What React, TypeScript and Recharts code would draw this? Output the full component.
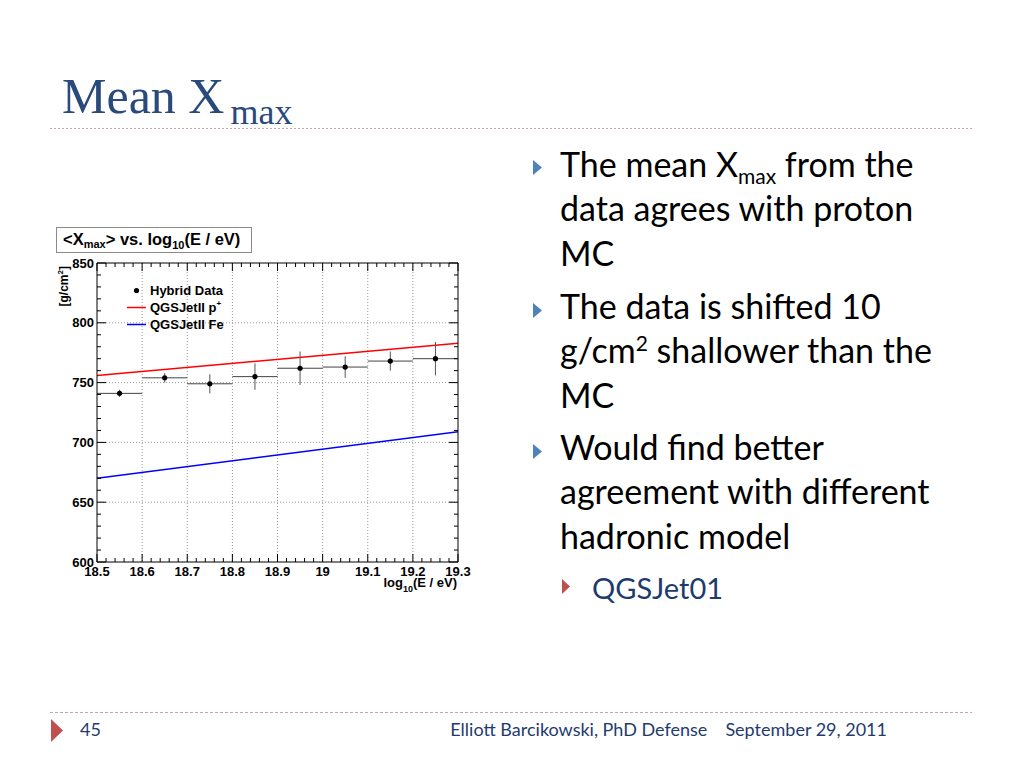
import React from "react";
import {
  ComposedChart,
  Scatter,
  Line,
  XAxis,
  YAxis,
  CartesianGrid,
  ErrorBar,
  Legend,
  Label,
} from "recharts";

// bins of log10(E/eV)
const binCenters = [18.55, 18.65, 18.75, 18.85, 18.95, 19.05, 19.15, 19.25];
const binHalfWidth = [0.05, 0.05, 0.05, 0.05, 0.05, 0.05, 0.05, 0.05];
// hybrid data <Xmax> [g/cm2] and its error
const meanXmax = [741, 754, 749, 755, 762, 763, 768, 770];
const xmaxErr = [3, 4, 8, 11, 14, 9, 8, 14];

// QGSJetII predictions (straight lines)
const modelEnergy = [18.5, 19.3];
const protonXmax = [756, 783];
const ironXmax = [670, 709];

const xMajorTicks = [18.5, 18.6, 18.7, 18.8, 18.9, 19, 19.1, 19.2, 19.3];
const yMajorTicks = [600, 650, 700, 750, 800, 850];

const subdivide = (majors: number[], n: number, digits: number) => {
  const out: number[] = [];
  for (let i = 0; i < majors.length - 1; i++) {
    const step = (majors[i + 1] - majors[i]) / n;
    for (let k = 0; k < n; k++) {
      out.push(Number((majors[i] + k * step).toFixed(digits)));
    }
  }
  out.push(majors[majors.length - 1]);
  return out;
};

const xTicks = subdivide(xMajorTicks, 5, 2);
const yTicks = subdivide(yMajorTicks, 5, 0);

const dataPoints = binCenters.map((x, i) => ({
  x,
  y: meanXmax[i],
  ex: binHalfWidth[i],
  ey: xmaxErr[i],
}));
const protonData = modelEnergy.map((x, i) => ({ x, y: protonXmax[i] }));
const ironData = modelEnergy.map((x, i) => ({ x, y: ironXmax[i] }));

const rootFont = "'Liberation Sans', Arial, Helvetica, sans-serif";
const isMajor = (list: number[], v: number) =>
  list.some((t) => Math.abs(t - v) < 1e-6);

const BottomTick = (props: any) => {
  const { x, y, payload } = props;
  const major = isMajor(xMajorTicks, payload.value);
  return (
    <g>
      <line x1={x} x2={x} y1={y} y2={y - (major ? 8 : 4)} stroke="#000" />
      {major && (
        <text
          x={x}
          y={y + 14}
          textAnchor="middle"
          fontFamily={rootFont}
          fontWeight="bold"
          fontSize={13}
          fill="#000"
        >
          {String(Math.round(payload.value * 10) / 10)}
        </text>
      )}
    </g>
  );
};

const TopTick = (props: any) => {
  const { x, y, payload } = props;
  const major = isMajor(xMajorTicks, payload.value);
  return <line x1={x} x2={x} y1={y} y2={y + (major ? 8 : 4)} stroke="#000" />;
};

const LeftTick = (props: any) => {
  const { x, y, payload } = props;
  const major = isMajor(yMajorTicks, payload.value);
  return (
    <g>
      <line x1={x} x2={x + (major ? 9 : 4)} y1={y} y2={y} stroke="#000" />
      {major && (
        <text
          x={x - 3}
          y={y}
          dy="0.36em"
          textAnchor="end"
          fontFamily={rootFont}
          fontWeight="bold"
          fontSize={13}
          fill="#000"
        >
          {payload.value}
        </text>
      )}
    </g>
  );
};

const RightTick = (props: any) => {
  const { x, y, payload } = props;
  const major = isMajor(yMajorTicks, payload.value);
  return <line x1={x} x2={x - (major ? 9 : 4)} y1={y} y2={y} stroke="#000" />;
};

const XTitle = (props: any) => {
  const { viewBox } = props;
  return (
    <text
      x={viewBox.x + viewBox.width - 1}
      y={viewBox.y + 25}
      textAnchor="end"
      fontFamily={rootFont}
      fontWeight="bold"
      fontSize={13}
      fill="#000"
    >
      log
      <tspan fontSize={9} dy={5}>10</tspan>
      <tspan dy={-5}>(E / eV)</tspan>
    </text>
  );
};

const YTitle = (props: any) => {
  const { viewBox } = props;
  const x = viewBox.x + 11;
  const y = viewBox.y + 3;
  return (
    <text
      x={x}
      y={y}
      transform={`rotate(-90 ${x} ${y})`}
      textAnchor="end"
      fontFamily={rootFont}
      fontWeight="bold"
      fontSize={12}
      fill="#000"
    >
      [g/cm
      <tspan fontSize={8} dy={-5}>2</tspan>
      <tspan dy={5}>]</tspan>
    </text>
  );
};

const legendRows = [
  { name: "Hybrid Data", kind: "dot", color: "#000" },
  { name: "QGSJetII p", sup: "+", kind: "line", color: "#ff0000" },
  { name: "QGSJetII Fe", kind: "line", color: "#0000ff" },
];

const LegendBox = () => (
  <div style={{ fontFamily: rootFont, fontWeight: "bold", fontSize: 13 }}>
    {legendRows.map((r) => (
      <div
        key={r.name}
        style={{ display: "flex", alignItems: "center", height: 17 }}
      >
        <svg width={23} height={17}>
          {r.kind === "dot" ? (
            <circle cx={9.5} cy={8.5} r={2.6} fill={r.color} />
          ) : (
            <line x1={0} x2={19} y1={8.5} y2={8.5} stroke={r.color} strokeWidth={1.5} />
          )}
        </svg>
        <span>
          {r.name}
          {r.sup && (
            <sup style={{ fontSize: 8, verticalAlign: 6, lineHeight: 0 }}>{r.sup}</sup>
          )}
        </span>
      </div>
    ))}
  </div>
);

const DataDot = (props: any) => {
  const { cx, cy } = props;
  return <circle cx={cx} cy={cy} r={2.6} fill="#000" />;
};

const Tri = ({ x, y, w, h, color }: any) => (
  <svg
    width={w}
    height={h}
    style={{ position: "absolute", left: x, top: y }}
  >
    <polygon points={`0,0 ${w},${h / 2} 0,${h}`} fill={color} />
  </svg>
);

const bodyFont = "Lato, 'Open Sans', sans-serif";
const lineH = 44.5;

const bodyStyle: React.CSSProperties = {
  position: "absolute",
  left: 560,
  fontFamily: bodyFont,
  fontSize: 34,
  lineHeight: `${lineH}px`,
  color: "#000",
  whiteSpace: "nowrap",
};

const smallSpan = (top: number): React.CSSProperties => ({
  fontSize: 21,
  lineHeight: "1px",
  position: "relative",
  top,
});

const footerStyle: React.CSSProperties = {
  position: "absolute",
  top: 717,
  fontFamily: bodyFont,
  fontSize: 18,
  lineHeight: "24px",
  color: "#1f3b6e",
  whiteSpace: "nowrap",
};

export default function App() {
  return (
    <div
      style={{
        position: "absolute",
        left: 0,
        top: 0,
        width: 1024,
        height: 768,
        background: "#fff",
        overflow: "hidden",
      }}
    >
      {/* slide title */}
      <div
        style={{
          position: "absolute",
          left: 62,
          top: 71,
          fontFamily: "'Liberation Serif', 'Times New Roman', serif",
          fontSize: 50,
          lineHeight: "50px",
          color: "#2a4a7c",
          whiteSpace: "nowrap",
        }}
      >
        Mean X
        <span style={{ fontSize: 36, position: "relative", top: 11, marginLeft: 6 }}>
          max
        </span>
      </div>
      <svg
        width={1024}
        height={768}
        style={{ position: "absolute", left: 0, top: 0 }}
      >
        <line x1={50} x2={972} y1={128.5} y2={128.5} stroke="#caa6a4" strokeDasharray="2 2" />
        <line x1={50} x2={972} y1={712.5} y2={712.5} stroke="#caa6a4" strokeDasharray="3 2" />
      </svg>

      {/* plot */}
      <div style={{ position: "absolute", left: 50, top: 220, width: 430, height: 380 }}>
        <ComposedChart
          width={430}
          height={380}
          margin={{ top: 42, right: 21, bottom: 8, left: 7 }}
        >
          <CartesianGrid
            stroke="#999"
            strokeDasharray="1 2"
            horizontalValues={[650, 700, 750, 800]}
            verticalValues={xMajorTicks.slice(1, -1)}
          />
          <XAxis
            dataKey="x"
            type="number"
            domain={[18.5, 19.3]}
            ticks={xTicks}
            interval={0}
            allowDataOverflow
            height={30}
            tickSize={0}
            tickMargin={0}
            tickLine={false}
            axisLine={{ stroke: "#000" }}
            tick={(p: any) => <BottomTick {...p} />}
          >
            <Label content={(p: any) => <XTitle {...p} />} />
          </XAxis>
          <XAxis
            xAxisId="top"
            dataKey="x"
            type="number"
            orientation="top"
            domain={[18.5, 19.3]}
            ticks={xTicks}
            interval={0}
            allowDataOverflow
            height={1}
            tickSize={0}
            tickMargin={0}
            tickLine={false}
            axisLine={{ stroke: "#000" }}
            tick={(p: any) => <TopTick {...p} />}
          />
          <YAxis
            type="number"
            domain={[600, 850]}
            ticks={yTicks}
            interval={0}
            allowDataOverflow
            width={40}
            tickSize={0}
            tickMargin={0}
            tickLine={false}
            axisLine={{ stroke: "#000" }}
            tick={(p: any) => <LeftTick {...p} />}
          >
            <Label content={(p: any) => <YTitle {...p} />} />
          </YAxis>
          <YAxis
            yAxisId="right"
            type="number"
            orientation="right"
            domain={[600, 850]}
            ticks={yTicks}
            interval={0}
            allowDataOverflow
            width={1}
            tickSize={0}
            tickMargin={0}
            tickLine={false}
            axisLine={{ stroke: "#000" }}
            tick={(p: any) => <RightTick {...p} />}
          />
          <Line
            data={protonData}
            dataKey="y"
            type="linear"
            stroke="#ff0000"
            strokeWidth={1.5}
            dot={false}
            isAnimationActive={false}
          />
          <Line
            data={ironData}
            dataKey="y"
            type="linear"
            stroke="#0000ff"
            strokeWidth={1.5}
            dot={false}
            isAnimationActive={false}
          />
          <Scatter
            data={dataPoints}
            dataKey="y"
            fill="#000"
            shape={(p: any) => <DataDot {...p} />}
            isAnimationActive={false}
          >
            <ErrorBar dataKey="ex" direction="x" width={0} stroke="#444" strokeWidth={1} />
            <ErrorBar dataKey="ey" direction="y" width={0} stroke="#555" strokeWidth={1} />
          </Scatter>
          <Legend
            layout="horizontal"
            verticalAlign="middle"
            align="center"
            content={() => <LegendBox />}
            wrapperStyle={{ left: 77, top: 62, width: "auto", height: "auto" }}
          />
        </ComposedChart>
        <div
          style={{
            position: "absolute",
            left: 6,
            top: 7,
            width: 196,
            height: 26,
            border: "1px solid #8a8a8a",
            background: "#fff",
            boxSizing: "border-box",
            fontFamily: rootFont,
            fontWeight: "bold",
            fontSize: 16.5,
            lineHeight: "22px",
            paddingLeft: 6,
            whiteSpace: "nowrap",
          }}
        >
          &lt;X<sub style={{ fontSize: 11, verticalAlign: -3, lineHeight: 0 }}>max</sub>&gt; vs. log
          <sub style={{ fontSize: 11, verticalAlign: -4, lineHeight: 0 }}>10</sub>(E / eV)
        </div>
      </div>

      {/* bullets */}
      <Tri x={533} y={160} w={9} h={15} color="#4f81bd" />
      <div style={{ ...bodyStyle, top: 141.5 }}>
        The mean X<span style={smallSpan(7)}>max</span> from the
        <br />
        data agrees with proton
        <br />
        MC
      </div>
      <Tri x={533} y={303} w={9} h={15} color="#4f81bd" />
      <div style={{ ...bodyStyle, top: 283.5 }}>
        The data is shifted 10
        <br />
        g/cm<span style={smallSpan(-12)}>2</span> shallower than the
        <br />
        MC
      </div>
      <Tri x={533} y={444} w={9} h={15} color="#4f81bd" />
      <div style={{ ...bodyStyle, top: 424.5 }}>
        Would find better
        <br />
        agreement with different
        <br />
        hadronic model
      </div>
      <Tri x={562} y={579} w={8} h={15} color="#c0504d" />
      <div style={{ ...bodyStyle, left: 592, top: 566, fontSize: 29, color: "#1f3b6e" }}>
        QGSJet01
      </div>

      {/* footer */}
      <Tri x={51} y={719} w={12} h={23} color="#c0504d" />
      <div style={{ ...footerStyle, left: 80 }}>45</div>
      <div style={{ ...footerStyle, right: 1024 - 887 }}>
        Elliott Barcikowski, PhD Defense
        <span style={{ marginLeft: 18 }}>September 29, 2011</span>
      </div>
    </div>
  );
}
